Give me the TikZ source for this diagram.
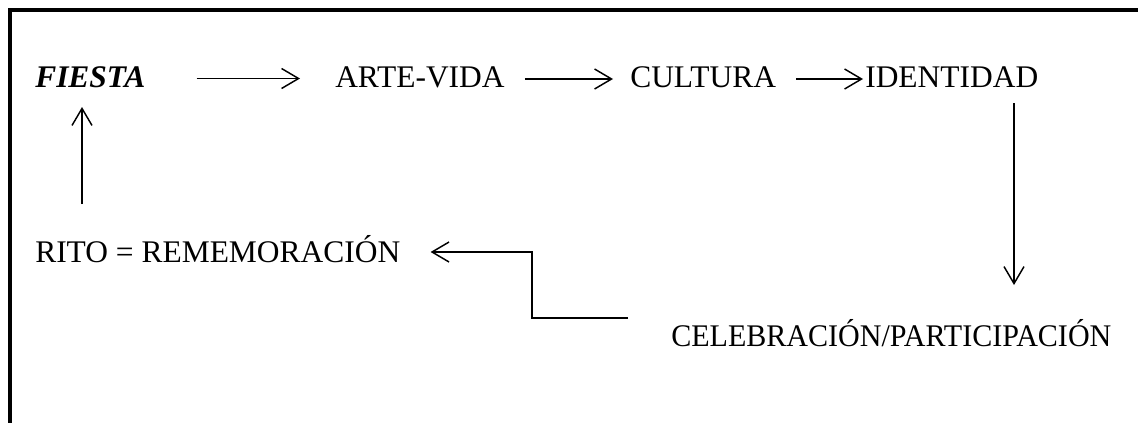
\documentclass[tikz,border=0pt]{standalone}
\usepackage{fontspec}
\setmainfont{Liberation Serif}
\usetikzlibrary{arrows.meta,calc}
\begin{document}
\begin{tikzpicture}[x=0.75pt,y=-0.75pt,
  lbl/.style={inner sep=0pt,anchor=base west,font=\fontsize{23.6}{28}\selectfont},
  arr/.style={line width=1.1pt,-{Straight Barb[length=12.75pt,width=15pt,line width=1.1pt]}},
  frame/.style={line width=3pt,line join=miter}]
\useasboundingbox (0,0) rectangle (1138,422);
\draw[frame] (10,424) -- (10,10) -- (1138,10);
\node[lbl,font=\fontsize{23.6}{28}\selectfont\bfseries\itshape] (fiesta) at (35,87) {FIESTA};
\node[lbl] (artevida) at (335,87) {ARTE-VIDA};
\node[lbl] (cultura) at (630,87) {CULTURA};
\node[lbl] (identidad) at (865,87) {IDENTIDAD};
\node[lbl] (rito) at (35,262) {RITO = REMEMORACIÓN};
\node[lbl] (celeb) at (671,346) {\scalebox{0.955}[1]{CELEBRACIÓN/PARTICIPACIÓN}};
\draw[arr] ($(fiesta.base east)+(51,-8.5)$) -- ($(artevida.base west)+(-35,-8.5)$);
\draw[arr] ($(artevida.base east)+(20,-8)$) -- ($(cultura.base west)+(-17,-8)$);
\draw[arr] ($(cultura.base east)+(20,-8)$) -- ($(identidad.base west)+(-2,-8)$);
\draw[arr] ($(identidad.base west)+(149,16)$) -- ($(celeb.base west)+(343,-61)$);
\draw[arr] ($(rito.base west)+(47,-58)$) -- ($(fiesta.base west)+(47,20)$);
\draw[arr,line join=miter] ($(celeb.base west)+(-43,-28)$) -- ++(-96,0) |- ($(rito.base east)+(30,-10)$);
\end{tikzpicture}
\end{document}
